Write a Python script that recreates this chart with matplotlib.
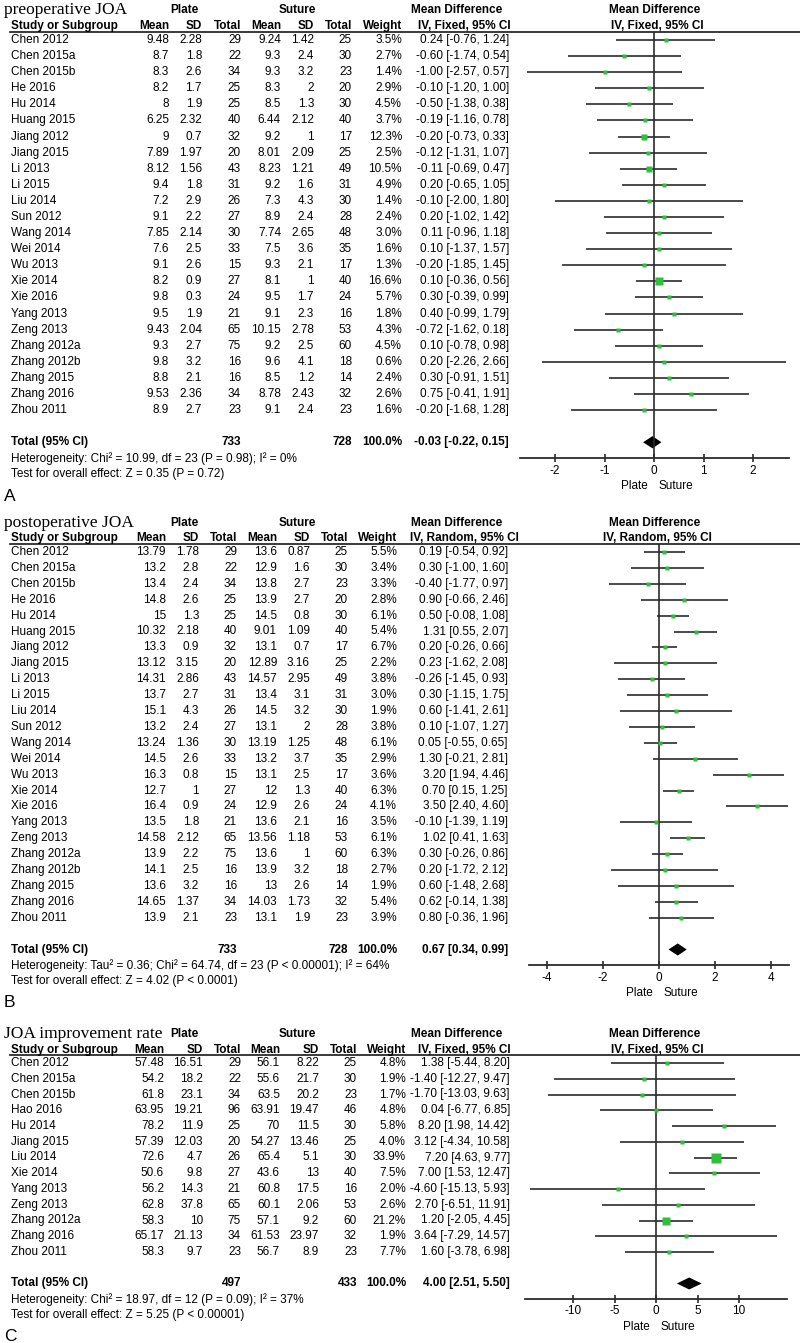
import numpy as np
import matplotlib
matplotlib.use('Agg')
import matplotlib.pyplot as plt
from matplotlib import transforms

plt.rcParams['font.family'] = ['Liberation Sans', 'DejaVu Sans']
plt.rcParams['axes.unicode_minus'] = False

# ---- data: panel A (preoperative JOA) and B (postoperative JOA) share the studies
studies_ab = ['Chen 2012', 'Chen 2015a', 'Chen 2015b', 'He 2016', 'Hu 2014', 'Huang 2015',
              'Jiang 2012', 'Jiang 2015', 'Li 2013', 'Li 2015', 'Liu 2014', 'Sun 2012',
              'Wang 2014', 'Wei 2014', 'Wu 2013', 'Xie 2014', 'Xie 2016', 'Yang 2013',
              'Zeng 2013', 'Zhang 2012a', 'Zhang 2012b', 'Zhang 2015', 'Zhang 2016', 'Zhou 2011']

plate_mean_a = [9.48, 8.7, 8.3, 8.2, 8, 6.25, 9, 7.89, 8.12, 9.4, 7.2, 9.1, 7.85, 7.6, 9.1, 8.2, 9.8, 9.5, 9.43, 9.3, 9.8, 8.8, 9.53, 8.9]
plate_sd_a = [2.28, 1.8, 2.6, 1.7, 1.9, 2.32, 0.7, 1.97, 1.56, 1.8, 2.9, 2.2, 2.14, 2.5, 2.6, 0.9, 0.3, 1.9, 2.04, 2.7, 3.2, 2.1, 2.36, 2.7]
plate_n_a = [29, 22, 34, 25, 25, 40, 32, 20, 43, 31, 26, 27, 30, 33, 15, 27, 24, 21, 65, 75, 16, 16, 34, 23]
suture_mean_a = [9.24, 9.3, 9.3, 8.3, 8.5, 6.44, 9.2, 8.01, 8.23, 9.2, 7.3, 8.9, 7.74, 7.5, 9.3, 8.1, 9.5, 9.1, 10.15, 9.2, 9.6, 8.5, 8.78, 9.1]
suture_sd_a = [1.42, 2.4, 3.2, 2, 1.3, 2.12, 1, 2.09, 1.21, 1.6, 4.3, 2.4, 2.65, 3.6, 2.1, 1, 1.7, 2.3, 2.78, 2.5, 4.1, 1.2, 2.43, 2.4]
suture_n_a = [25, 30, 23, 20, 30, 40, 17, 25, 49, 31, 30, 28, 48, 35, 17, 40, 24, 16, 53, 60, 18, 14, 32, 23]
weight_a = [3.5, 2.7, 1.4, 2.9, 4.5, 3.7, 12.3, 2.5, 10.5, 4.9, 1.4, 2.4, 3.0, 1.6, 1.3, 16.6, 5.7, 1.8, 4.3, 4.5, 0.6, 2.4, 2.6, 1.6]
md_a = [0.24, -0.60, -1.00, -0.10, -0.50, -0.19, -0.20, -0.12, -0.11, 0.20, -0.10, 0.20, 0.11, 0.10, -0.20, 0.10, 0.30, 0.40, -0.72, 0.10, 0.20, 0.30, 0.75, -0.20]
lo_a = [-0.76, -1.74, -2.57, -1.20, -1.38, -1.16, -0.73, -1.31, -0.69, -0.65, -2.00, -1.02, -0.96, -1.37, -1.85, -0.36, -0.39, -0.99, -1.62, -0.78, -2.26, -0.91, -0.41, -1.68]
hi_a = [1.24, 0.54, 0.57, 1.00, 0.38, 0.78, 0.33, 1.07, 0.47, 1.05, 1.80, 1.42, 1.18, 1.57, 1.45, 0.56, 0.99, 1.79, 0.18, 0.98, 2.66, 1.51, 1.91, 1.28]
total_a = [733, 728, -0.03, -0.22, 0.15]

plate_mean_b = [13.79, 13.2, 13.4, 14.8, 15, 10.32, 13.3, 13.12, 14.31, 13.7, 15.1, 13.2, 13.24, 14.5, 16.3, 12.7, 16.4, 13.5, 14.58, 13.9, 14.1, 13.6, 14.65, 13.9]
plate_sd_b = [1.78, 2.8, 2.4, 2.6, 1.3, 2.18, 0.9, 3.15, 2.86, 2.7, 4.3, 2.4, 1.36, 2.6, 0.8, 1, 0.9, 1.8, 2.12, 2.2, 2.5, 3.2, 1.37, 2.1]
plate_n_b = [29, 22, 34, 25, 25, 40, 32, 20, 43, 31, 26, 27, 30, 33, 15, 27, 24, 21, 65, 75, 16, 16, 34, 23]
suture_mean_b = [13.6, 12.9, 13.8, 13.9, 14.5, 9.01, 13.1, 12.89, 14.57, 13.4, 14.5, 13.1, 13.19, 13.2, 13.1, 12, 12.9, 13.6, 13.56, 13.6, 13.9, 13, 14.03, 13.1]
suture_sd_b = [0.87, 1.6, 2.7, 2.7, 0.8, 1.09, 0.7, 3.16, 2.95, 3.1, 3.2, 2, 1.25, 3.7, 2.5, 1.3, 2.6, 2.1, 1.18, 1, 3.2, 2.6, 1.73, 1.9]
suture_n_b = [25, 30, 23, 20, 30, 40, 17, 25, 49, 31, 30, 28, 48, 35, 17, 40, 24, 16, 53, 60, 18, 14, 32, 23]
weight_b = [5.5, 3.4, 3.3, 2.8, 6.1, 5.4, 6.7, 2.2, 3.8, 3.0, 1.9, 3.8, 6.1, 2.9, 3.6, 6.3, 4.1, 3.5, 6.1, 6.3, 2.7, 1.9, 5.4, 3.9]
md_b = [0.19, 0.30, -0.40, 0.90, 0.50, 1.31, 0.20, 0.23, -0.26, 0.30, 0.60, 0.10, 0.05, 1.30, 3.20, 0.70, 3.50, -0.10, 1.02, 0.30, 0.20, 0.60, 0.62, 0.80]
lo_b = [-0.54, -1.00, -1.77, -0.66, -0.08, 0.55, -0.26, -1.62, -1.45, -1.15, -1.41, -1.07, -0.55, -0.21, 1.94, 0.15, 2.40, -1.39, 0.41, -0.26, -1.72, -1.48, -0.14, -0.36]
hi_b = [0.92, 1.60, 0.97, 2.46, 1.08, 2.07, 0.66, 2.08, 0.93, 1.75, 2.61, 1.27, 0.65, 2.81, 4.46, 1.25, 4.60, 1.19, 1.63, 0.86, 2.12, 2.68, 1.38, 1.96]
total_b = [733, 728, 0.67, 0.34, 0.99]

# ---- data: panel C (JOA improvement rate)
studies_c = ['Chen 2012', 'Chen 2015a', 'Chen 2015b', 'Hao 2016', 'Hu 2014', 'Jiang 2015', 'Liu 2014',
             'Xie 2014', 'Yang 2013', 'Zeng 2013', 'Zhang 2012a', 'Zhang 2016', 'Zhou 2011']
plate_mean_c = [57.48, 54.2, 61.8, 63.95, 78.2, 57.39, 72.6, 50.6, 56.2, 62.8, 58.3, 65.17, 58.3]
plate_sd_c = [16.51, 18.2, 23.1, 19.21, 11.9, 12.03, 4.7, 9.8, 14.3, 37.8, 10, 21.13, 9.7]
plate_n_c = [29, 22, 34, 96, 25, 20, 26, 27, 21, 65, 75, 34, 23]
suture_mean_c = [56.1, 55.6, 63.5, 63.91, 70, 54.27, 65.4, 43.6, 60.8, 60.1, 57.1, 61.53, 56.7]
suture_sd_c = [8.22, 21.7, 20.2, 19.47, 11.5, 13.46, 5.1, 13, 17.5, 2.06, 9.2, 23.97, 8.9]
suture_n_c = [25, 30, 23, 46, 30, 25, 30, 40, 16, 53, 60, 32, 23]
weight_c = [4.8, 1.9, 1.7, 4.8, 5.8, 4.0, 33.9, 7.5, 2.0, 2.6, 21.2, 1.9, 7.7]
md_c = [1.38, -1.40, -1.70, 0.04, 8.20, 3.12, 7.20, 7.00, -4.60, 2.70, 1.20, 3.64, 1.60]
lo_c = [-5.44, -12.27, -13.03, -6.77, 1.98, -4.34, 4.63, 1.53, -15.13, -6.51, -2.05, -7.29, -3.78]
hi_c = [8.20, 9.47, 9.63, 6.85, 14.42, 10.58, 9.77, 12.47, 5.93, 11.91, 4.45, 14.57, 6.98]
total_c = [497, 433, 4.00, 2.51, 5.50]

W, H = 800, 1343
fig = plt.figure(figsize=(8, 13.43), dpi=100)
fs = 8.5
ink = '#2b2b2b'


def rect(x0, x1, y0, y1):
    # pixel box (y measured from the top) -> figure fraction
    return [x0 / W, 1 - y1 / H, (x1 - x0) / W, (y1 - y0) / H]


def draw_panel(lay, title, method, letter, het, effect, ticks, studies,
               pm, psd, pn, sm, ssd, sn, wt, md, lo, hi, total):
    n = len(studies)
    r0, dy = lay['r0'], lay['dy']
    top, bot = -2.6, n + 4.8
    tab = fig.add_axes(rect(0, W, r0 + top * dy, r0 + bot * dy))
    tab.set_xlim(0, W)
    tab.set_ylim(bot, top)
    tab.set_axis_off()
    cols = lay['cols']

    tab.text(4, -1.85, title, family='Liberation Serif', fontsize=12.5, va='center')
    tab.text(184, -1.85, 'Plate', fontsize=fs, weight='bold', ha='center', va='center')
    tab.text(297, -1.85, 'Suture', fontsize=fs, weight='bold', ha='center', va='center')
    tab.text(457, -1.85, 'Mean Difference', fontsize=fs, weight='bold', ha='center', va='center')
    tab.text(655, -1.85, 'Mean Difference', fontsize=fs, weight='bold', ha='center', va='center')
    tab.text(11, -0.85, 'Study or Subgroup', fontsize=fs, weight='bold', va='center')
    for x, h in zip(cols[:7], ['Mean', 'SD', 'Total', 'Mean', 'SD', 'Total', 'Weight']):
        tab.text(x, -0.85, h, fontsize=fs, weight='bold', ha='right', va='center')
    tab.text(464, -0.85, method, fontsize=fs, weight='bold', ha='center', va='center')
    tab.text(657, -0.85, method, fontsize=fs, weight='bold', ha='center', va='center')
    tab.plot([10, W], [-0.5, -0.5], color=ink, lw=1.3)

    for i, s in enumerate(studies):
        vals = [f'{pm[i]:g}', f'{psd[i]:g}', f'{pn[i]}', f'{sm[i]:g}', f'{ssd[i]:g}',
                f'{sn[i]}', f'{wt[i]:.1f}%']
        tab.text(11, i, s, fontsize=fs, va='center')
        for x, v in zip(cols[:7], vals):
            tab.text(x, i, v, fontsize=fs, ha='right', va='center')
        tab.text(cols[7], i, f'{md[i]:.2f} [{lo[i]:.2f}, {hi[i]:.2f}]',
                 fontsize=fs, ha='right', va='center')

    yt = n + 1
    tab.text(11, yt, 'Total (95% CI)', fontsize=fs, weight='bold', va='center')
    tab.text(cols[2], yt, f'{total[0]}', fontsize=fs, weight='bold', ha='right', va='center')
    tab.text(cols[5], yt, f'{total[1]}', fontsize=fs, weight='bold', ha='right', va='center')
    tab.text(cols[6], yt, '100.0%', fontsize=fs, weight='bold', ha='right', va='center')
    tab.text(cols[7], yt, f'{total[2]:.2f} [{total[3]:.2f}, {total[4]:.2f}]',
             fontsize=fs, weight='bold', ha='right', va='center')
    tab.text(11, n + 2, het, fontsize=fs, va='center')
    tab.text(11, n + 3, effect, fontsize=fs, va='center')
    tab.text(4, n + 4.35, letter, fontsize=12.5, va='center')

    # forest part
    fx0, fx1 = 505, 800
    ax = fig.add_axes(rect(fx0, fx1, r0 - 0.5 * dy, r0 + (n + 2) * dy))
    z, sc = lay['zero'], lay['scale']
    ax.set_xlim((fx0 - z) / sc, (fx1 - z) / sc)
    ax.set_ylim(n + 2, -0.5)
    ax.patch.set_visible(False)
    for sp in ['top', 'left', 'right']:
        ax.spines[sp].set_visible(False)
    ax.spines['bottom'].set_bounds((lay['axis'][0] - z) / sc, (lay['axis'][1] - z) / sc)
    ax.spines['bottom'].set_linewidth(1.3)
    ax.spines['bottom'].set_color(ink)
    ax.set_yticks([])
    ax.set_xticks(ticks)
    ax.set_xticklabels([f'{t:g}' for t in ticks])
    ax.tick_params(axis='x', direction='inout', length=6, width=1.2, pad=1.5,
                   labelsize=fs, color=ink)
    ax.axvline(0, color=ink, lw=1.2)
    ax.hlines(np.arange(n), lo, hi, color=ink, lw=1.2)
    for i in range(n):
        ax.plot(md[i], i, 's', ms=max(2.3, 1.25 * np.sqrt(wt[i])), color='#2fbf3a',
                mec='none', zorder=3)
    ax.fill([total[3], total[2], total[4], total[2]],
            [yt, yt - 0.38, yt, yt + 0.38], color='black', lw=0)
    tr = transforms.blended_transform_factory(ax.transData, ax.transAxes)
    ax.annotate('Plate', (0, 0), xycoords=tr, xytext=(-4.5, -20), textcoords='offset points',
                ha='right', va='center', fontsize=fs)
    ax.annotate('Suture', (0, 0), xycoords=tr, xytext=(3.5, -20), textcoords='offset points',
                ha='left', va='center', fontsize=fs)


lay_a = dict(r0=40, dy=16.09, zero=654, scale=49.5, axis=(520, 789),
             cols=[169, 202, 241, 281, 314, 352, 402, 509])
lay_b = dict(r0=552, dy=15.9, zero=659, scale=28.0, axis=(529, 789),
             cols=[166, 199, 237, 277, 310, 348, 397, 508])
lay_c = dict(r0=1063, dy=15.75, zero=656, scale=8.3, axis=(525, 787),
             cols=[164, 203, 241, 280, 319, 357, 406, 510])

draw_panel(lay_a, 'preoperative JOA', 'IV, Fixed, 95% CI', 'A',
           'Heterogeneity: Chi² = 10.99, df = 23 (P = 0.98); I² = 0%',
           'Test for overall effect: Z = 0.35 (P = 0.72)', [-2, -1, 0, 1, 2], studies_ab,
           plate_mean_a, plate_sd_a, plate_n_a, suture_mean_a, suture_sd_a, suture_n_a,
           weight_a, md_a, lo_a, hi_a, total_a)
draw_panel(lay_b, 'postoperative JOA', 'IV, Random, 95% CI', 'B',
           'Heterogeneity: Tau² = 0.36; Chi² = 64.74, df = 23 (P < 0.00001); I² = 64%',
           'Test for overall effect: Z = 4.02 (P < 0.0001)', [-4, -2, 0, 2, 4], studies_ab,
           plate_mean_b, plate_sd_b, plate_n_b, suture_mean_b, suture_sd_b, suture_n_b,
           weight_b, md_b, lo_b, hi_b, total_b)
draw_panel(lay_c, 'JOA improvement rate', 'IV, Fixed, 95% CI', 'C',
           'Heterogeneity: Chi² = 18.97, df = 12 (P = 0.09); I² = 37%',
           'Test for overall effect: Z = 5.25 (P < 0.00001)', [-10, -5, 0, 5, 10], studies_c,
           plate_mean_c, plate_sd_c, plate_n_c, suture_mean_c, suture_sd_c, suture_n_c,
           weight_c, md_c, lo_c, hi_c, total_c)

fig.savefig('out.png', dpi=100)
